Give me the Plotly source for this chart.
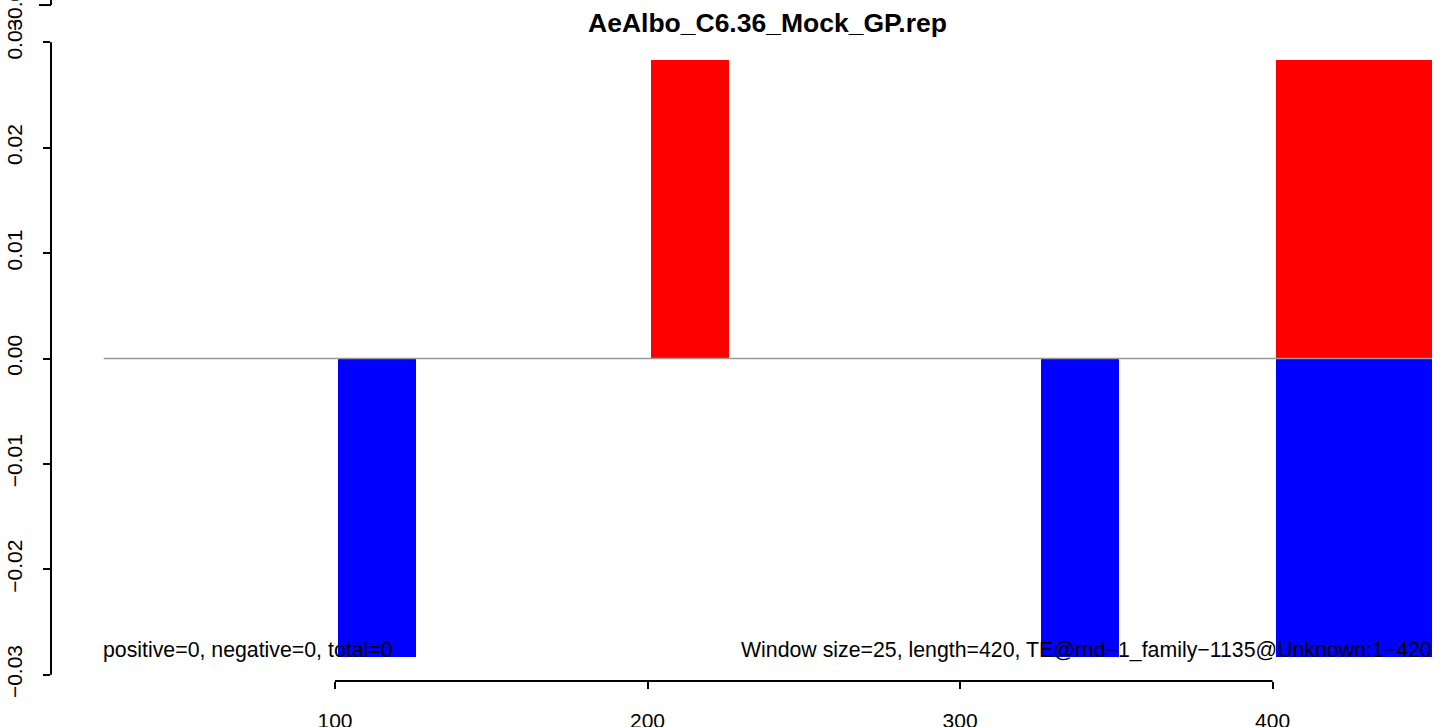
import plotly.graph_objects as go

# ---- data ----
title = "AeAlbo_C6.36_Mock_GP.rep"
pos_start = [201, 401]
pos_width = [25, 50]
pos_value = [0.0283, 0.0283]
neg_start = [101, 326, 401]
neg_width = [25, 25, 50]
neg_value = [-0.0283, -0.0283, -0.0283]
seg_from, seg_to = 26, 451
x_ticks = [100, 200, 300, 400]
y_ticks = [-0.03, -0.02, -0.01, 0.0, 0.01, 0.02, 0.03]
left_note = "positive=0, negative=0, total=0"
right_note = "Window size=25, length=420, TE@rnd\u22121_family\u22121135@Unknown:1\u2212420"
note_y = -0.0277

FONT = "Liberation Sans, Arial, sans-serif"

fig = go.Figure()
fig.add_trace(go.Bar(
    x=[s + w / 2 for s, w in zip(neg_start, neg_width)], y=neg_value, width=neg_width,
    marker=dict(color="#0000FF", line=dict(width=0)), showlegend=False))
fig.add_trace(go.Bar(
    x=[s + w / 2 for s, w in zip(pos_start, pos_width)], y=pos_value, width=pos_width,
    marker=dict(color="#FF0000", line=dict(width=0)), showlegend=False))
fig.add_trace(go.Scatter(
    x=[seg_from, seg_to], y=[0, 0], mode="lines",
    line=dict(color="#999999", width=1.3), showlegend=False, hoverinfo="skip"))

axis_common = dict(showgrid=False, zeroline=False, showline=False, ticks="outside",
                   ticklen=7, tickwidth=2, tickcolor="black", automargin=False,
                   tickfont=dict(family=FONT, size=21, color="black"))

fig.update_layout(
    width=1441, height=727,
    margin=dict(l=51, r=0, t=36, b=46, pad=0),
    paper_bgcolor="white", plot_bgcolor="white",
    barmode="overlay", bargap=0,
    xaxis=dict(range=[9.12, 453.9], tickvals=x_ticks, ticktext=[str(v) for v in x_ticks],
               ticklabelstandoff=14, **axis_common),
    yaxis=dict(range=[-0.0306, 0.0306], tickvals=y_ticks, tickformat=".2f",
               tickangle=-90, ticklabelstandoff=13, **axis_common),
)

# R-style axis lines spanning first to last tick
fig.add_shape(type="line", xref="x", yref="paper", x0=min(x_ticks), x1=max(x_ticks), y0=0, y1=0,
              line=dict(color="black", width=2))
fig.add_shape(type="line", xref="paper", yref="y", x0=0, x1=0, y0=min(y_ticks), y1=max(y_ticks),
              line=dict(color="black", width=2))
# remnant of the neighbouring panel above (its bottom tick and label)
fig.add_shape(type="line", xref="paper", yref="paper", x0=0, x1=0, y0=1.048, y1=1.07,
              line=dict(color="black", width=2))
fig.add_shape(type="line", xref="paper", yref="paper", x0=-0.0087, x1=0, y0=1.048, y1=1.048,
              line=dict(color="black", width=2))
fig.add_annotation(text="\u22120.03", xref="paper", yref="paper", x=-0.0265, y=1.048,
                   xanchor="center", yanchor="middle", textangle=-90, showarrow=False,
                   font=dict(family=FONT, size=21, color="black"))

fig.add_annotation(text="<b>" + title + "</b>", xref="x", yref="paper", x=238.5, y=1.0202,
                   xanchor="center", yanchor="middle", showarrow=False,
                   font=dict(family=FONT, size=26.5, color="black"))
fig.add_annotation(text=left_note, xref="x", yref="y", x=seg_from, y=note_y, xshift=-3,
                   xanchor="left", yanchor="middle", showarrow=False,
                   font=dict(family=FONT, size=21.3, color="black"))
fig.add_annotation(text=right_note, xref="x", yref="y", x=seg_to, y=note_y, xshift=2,
                   xanchor="right", yanchor="middle", showarrow=False,
                   font=dict(family=FONT, size=21.3, color="black"))

fig.write_html("out.html", config={"displayModeBar": False},
               post_script="document.body.style.margin='0';document.body.style.overflow='hidden';")
